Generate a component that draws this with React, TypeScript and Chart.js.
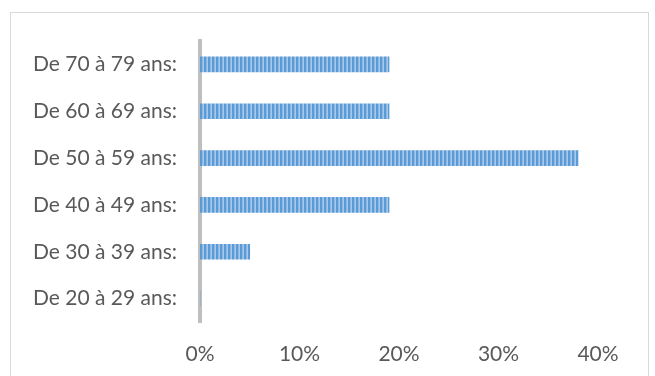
import React, { useEffect, useRef } from "react";
import { Chart, registerables } from "chart.js";

Chart.register(...registerables);

const categories = [
  "De 70 à 79 ans:",
  "De 60 à 69 ans:",
  "De 50 à 59 ans:",
  "De 40 à 49 ans:",
  "De 30 à 39 ans:",
  "De 20 à 29 ans:",
];
const shares = [19, 19, 38, 19, 5, 0];
const xTicks = [0, 10, 20, 30, 40];

function makePattern(): CanvasPattern | string {
  const c = document.createElement("canvas");
  c.width = 4;
  c.height = 1;
  const g = c.getContext("2d");
  if (!g) return "#5B9BD5";
  const cols = ["#5B9BD5", "#5B9BD5", "#8DB8E4", "#A6C8EB"];
  cols.forEach((col, i) => {
    g.fillStyle = col;
    g.fillRect(i, 0, 1, 1);
  });
  return g.createPattern(c, "repeat") || "#5B9BD5";
}

export default function App() {
  const ref = useRef<HTMLCanvasElement>(null);
  useEffect(() => {
    if (!ref.current) return;
    const font = { family: "Lato", size: 21 };
    const chart = new Chart(ref.current, {
      type: "bar",
      data: {
        labels: categories,
        datasets: [
          {
            data: shares,
            backgroundColor: makePattern(),
            barThickness: 15,
            borderWidth: 0,
          },
        ],
      },
      options: {
        indexAxis: "y",
        animation: false,
        responsive: false,
        layout: { padding: { left: 0, right: 57, top: 41, bottom: 0 } },
        plugins: { legend: { display: false }, tooltip: { enabled: false } },
        scales: {
          x: {
            min: 0,
            max: 40,
            afterBuildTicks: (s: any) => {
              s.ticks = xTicks.map((v) => ({ value: v }));
            },
            afterFit: (s: any) => {
              s.height = 54;
            },
            grid: { display: false, drawTicks: false },
            border: { display: false },
            ticks: {
              color: "#595959",
              font,
              padding: 20,
              maxRotation: 0,
              callback: (v: any) => v + "%",
            },
          },
          y: {
            z: 1,
            afterFit: (s: any) => {
              s.width = 200;
            },
            grid: { display: true, drawOnChartArea: false, drawTicks: false },
            border: { display: true, color: "#BFBFBF", width: 4 },
            ticks: { color: "#595959", font, padding: 23 },
          },
        },
      },
    });
    return () => chart.destroy();
  }, []);
  return (
    <div style={{ position: "fixed", left: 0, top: 0, width: 655, height: 376, background: "#fff" }}>
      <div
        style={{
          position: "absolute",
          left: 10,
          top: 12,
          width: 639,
          height: 370,
          border: "1px solid #D9D9D9",
          boxSizing: "border-box",
        }}
      />
      <canvas ref={ref} width={655} height={376} style={{ position: "absolute", left: 0, top: 0 }} />
    </div>
  );
}
